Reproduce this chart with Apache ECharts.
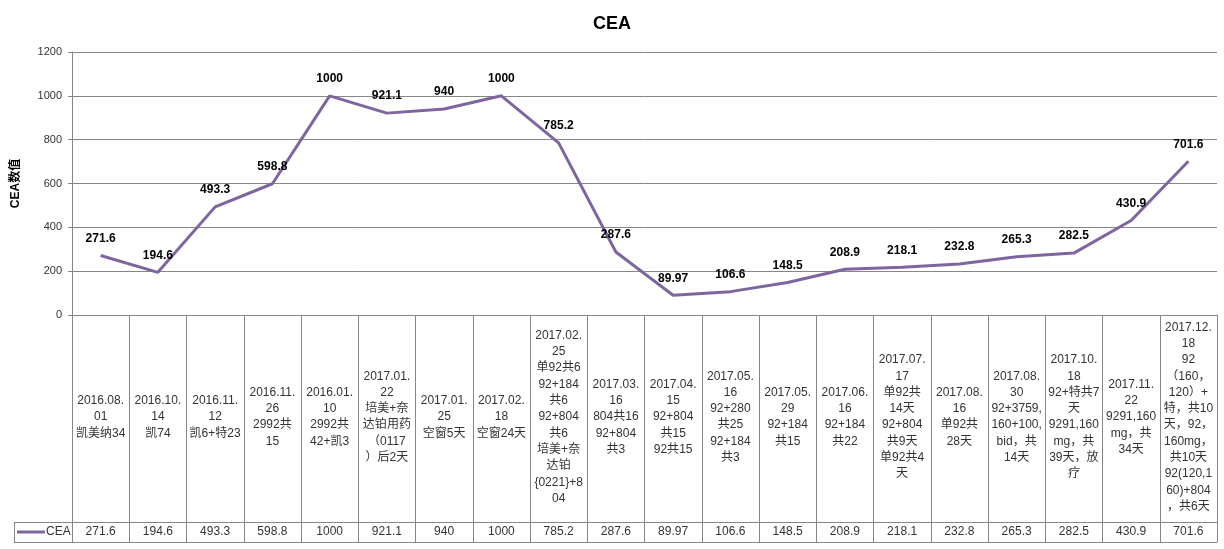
<!DOCTYPE html>
<html>
<head>
<meta charset="utf-8">
<script src="https://cdn.jsdelivr.net/npm/echarts@6/dist/echarts.min.js"></script>
<style>
html,body{margin:0;padding:0;background:#fff;}
#chart{width:1224px;height:549px;}
</style>
</head>
<body>
<div id="chart"></div>
<script>
const categories = [
  "2016.08.\n01\n凯美纳34",
  "2016.10.\n14\n凯74",
  "2016.11.\n12\n凯6+特23",
  "2016.11.\n26\n2992共\n15",
  "2016.01.\n10\n2992共\n42+凯3",
  "2017.01.\n22\n培美+奈\n达铂用药\n（0117\n）后2天",
  "2017.01.\n25\n空窗5天",
  "2017.02.\n18\n空窗24天",
  "2017.02.\n25\n单92共6\n92+184\n共6\n92+804\n共6\n培美+奈\n达铂\n{0221}+8\n04",
  "2017.03.\n16\n804共16\n92+804\n共3",
  "2017.04.\n15\n92+804\n共15\n92共15",
  "2017.05.\n16\n92+280\n共25\n92+184\n共3",
  "2017.05.\n29\n92+184\n共15",
  "2017.06.\n16\n92+184\n共22",
  "2017.07.\n17\n单92共\n14天\n92+804\n共9天\n单92共4\n天",
  "2017.08.\n16\n单92共\n28天",
  "2017.08.\n30\n92+3759,\n160+100,\nbid，共\n14天",
  "2017.10.\n18\n92+特共7\n天\n9291,160\nmg，共\n39天，放\n疗",
  "2017.11.\n22\n9291,160\nmg，共\n34天",
  "2017.12.\n18\n92\n（160，\n120）+\n特，共10\n天，92，\n160mg，\n共10天\n92(120,1\n60)+804\n，共6天"
];
const ceaValues = [271.6, 194.6, 493.3, 598.8, 1000, 921.1, 940, 1000, 785.2, 287.6, 89.97, 106.6, 148.5, 208.9, 218.1, 232.8, 265.3, 282.5, 430.9, 701.6];
const valueLabels = ["271.6","194.6","493.3","598.8","1000","921.1","940","1000","785.2","287.6","89.97","106.6","148.5","208.9","218.1","232.8","265.3","282.5","430.9","701.6"];
const yTicks = [0, 200, 400, 600, 800, 1000, 1200];
const seriesName = "CEA";
const titleText = "CEA";
const yAxisName = "CEA数值";

const GRAY = "#868686";
const TXT = "#333333";
const LINE = "#7E65A0";
const FONT = "'Liberation Sans', 'Noto Sans CJK SC', sans-serif";

const chart = echarts.init(document.getElementById('chart'), null, {renderer: 'canvas'});
chart.setOption({
  animation: false,
  backgroundColor: '#fff',
  title: {
    text: titleText,
    left: 'center',
    top: 10,
    textStyle: {fontSize: 18, fontWeight: 'bold', color: '#000', fontFamily: FONT}
  },
  legend: {
    data: [{name: seriesName, icon: 'rect'}],
    left: 17,
    top: 526,
    itemWidth: 28,
    itemHeight: 3,
    padding: 0,
    itemStyle: {color: LINE},
    textStyle: {fontSize: 12, color: TXT, fontFamily: FONT, padding: [0,0,0,-4]}
  },
  grid: {left: 72, right: 7, top: 52, bottom: 234, containLabel: false},
  xAxis: [
    {
      type: 'category',
      data: categories,
      position: 'bottom',
      boundaryGap: true,
      axisLine: {show: true, lineStyle: {color: GRAY, width: 1}},
      axisTick: {show: true, interval: 0, length: 227, lineStyle: {color: GRAY, width: 1}},
      axisLabel: {
        interval: 0, margin: 102, verticalAlign: 'middle', align: 'center',
        fontSize: 12, lineHeight: 16.3, color: TXT, fontFamily: FONT
      },
      splitLine: {show: false}
    },
    {
      type: 'category',
      data: valueLabels,
      position: 'bottom',
      offset: 207,
      boundaryGap: true,
      axisLine: {show: true, lineStyle: {color: GRAY, width: 1}},
      axisTick: {show: false},
      axisLabel: {interval: 0, margin: 10, verticalAlign: 'middle', fontSize: 12, color: TXT, fontFamily: FONT},
      splitLine: {show: false}
    },
    {
      type: 'category',
      data: valueLabels,
      position: 'bottom',
      offset: 227,
      boundaryGap: true,
      axisLine: {show: true, lineStyle: {color: GRAY, width: 1}},
      axisTick: {show: false},
      axisLabel: {show: false},
      splitLine: {show: false}
    }
  ],
  yAxis: {
    type: 'value',
    min: yTicks[0],
    max: yTicks[yTicks.length - 1],
    interval: yTicks[1] - yTicks[0],
    name: yAxisName,
    nameLocation: 'middle',
    nameGap: 50,
    nameRotate: 90,
    nameTextStyle: {fontSize: 12, fontWeight: 'bold', color: '#000', fontFamily: FONT},
    axisLine: {show: true, lineStyle: {color: GRAY, width: 1}},
    axisTick: {show: true, length: 4, lineStyle: {color: GRAY}},
    axisLabel: {fontSize: 11, color: TXT, margin: 10, fontFamily: FONT, formatter: function (v) { return String(v); }},
    splitLine: {show: true, lineStyle: {color: GRAY, width: 1}}
  },
  graphic: [
    {type: 'line', shape: {x1: 14, y1: 522.5, x2: 72, y2: 522.5}, style: {stroke: GRAY, lineWidth: 1}, silent: true},
    {type: 'line', shape: {x1: 14, y1: 542.5, x2: 72, y2: 542.5}, style: {stroke: GRAY, lineWidth: 1}, silent: true},
    {type: 'line', shape: {x1: 14.5, y1: 522, x2: 14.5, y2: 543}, style: {stroke: GRAY, lineWidth: 1}, silent: true}
  ],
  series: [{
    name: seriesName,
    type: 'line',
    data: ceaValues,
    xAxisIndex: 0,
    symbol: 'circle',
    symbolSize: 0.01,
    showSymbol: true,
    lineStyle: {color: LINE, width: 3},
    itemStyle: {color: LINE},
    label: {
      show: true, position: 'top', distance: 11,
      fontSize: 12, fontWeight: 'bold', color: '#000', fontFamily: FONT
    }
  }]
});
</script>
</body>
</html>
